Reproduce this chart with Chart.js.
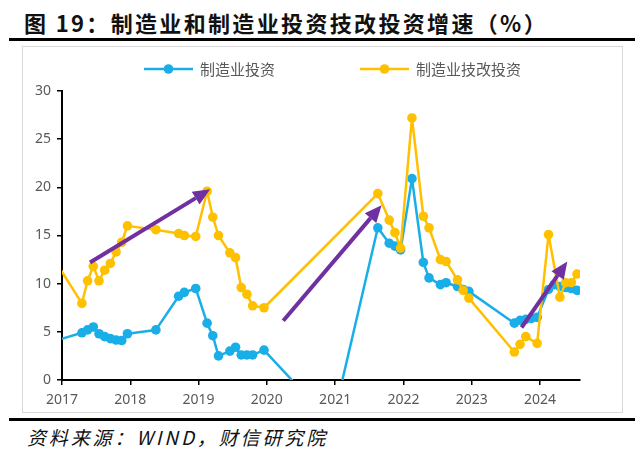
<!DOCTYPE html>
<html><head><meta charset="utf-8">
<script src="https://cdn.jsdelivr.net/npm/chart.js@4/dist/chart.umd.min.js"></script>
<style>
html,body{margin:0;padding:0;background:#fff;width:640px;height:454px;overflow:hidden;position:relative;}
#title{position:absolute;left:24px;top:11px;font-family:"Noto Sans CJK SC";font-weight:700;font-size:22px;line-height:22px;color:#111;white-space:nowrap;}
.rule{position:absolute;left:9px;width:626px;height:3px;background:#000;}
#box{position:absolute;left:22px;top:46px;width:601px;height:367px;border:1px solid #d9d9d9;box-sizing:border-box;}
#src{position:absolute;left:27px;top:427px;font-family:"Noto Sans CJK SC";font-style:italic;font-size:19px;line-height:20px;color:#111;white-space:nowrap;}
#wrap{position:absolute;left:0;top:0;width:640px;height:454px;}
</style></head>
<body>
<div id="title">图 19：制造业和制造业投资技改投资增速（%）</div>
<div class="rule" style="top:38px"></div>
<div id="box"></div>
<div class="rule" style="top:418px"></div>
<div id="src">资料来源：WIND，财信研究院</div>
<div id="wrap"><canvas id="c" width="640" height="454"></canvas></div>
<script>
// ---- data ----
const seriesNames = ['制造业投资', '制造业技改投资'];
const mfgDates = ['2016-12','2017-04','2017-05','2017-06','2017-07','2017-08','2017-09','2017-10','2017-11','2017-12',
  '2018-05','2018-09','2018-10','2018-12',
  '2019-02','2019-03','2019-04','2019-06','2019-07','2019-08','2019-09','2019-10','2019-12',
  '2020-12',
  '2021-08','2021-10','2021-11','2021-12',
  '2022-02','2022-04','2022-05','2022-07','2022-08','2022-10','2022-11','2022-12',
  '2023-08','2023-09','2023-10','2023-11','2023-12',
  '2024-02','2024-03','2024-04','2024-05','2024-06','2024-07'];
const mfgValues = [4.2,4.9,5.2,5.5,4.8,4.5,4.3,4.15,4.1,4.8,
  5.2,8.7,9.1,9.5,
  5.9,4.6,2.5,3.0,3.4,2.6,2.6,2.6,3.1,
  -4.5,
  15.8,14.2,13.9,13.5,
  20.9,12.2,10.6,9.9,10.1,9.7,9.4,9.2,
  5.9,6.2,6.3,6.4,6.5,
  9.4,9.9,9.7,9.6,9.5,9.3];
const techDates = ['2016-12','2017-04','2017-05','2017-06','2017-07','2017-08','2017-09','2017-10','2017-11','2017-12',
  '2018-05','2018-09','2018-10','2018-12',
  '2019-02','2019-03','2019-04','2019-06','2019-07','2019-08','2019-09','2019-10','2019-12',
  '2021-08','2021-10','2021-11','2021-12',
  '2022-02','2022-04','2022-05','2022-07','2022-08','2022-10','2022-11','2022-12',
  '2023-08','2023-09','2023-10','2023-12',
  '2024-02','2024-04','2024-05','2024-06','2024-07'];
const techValues = [11.7,7.95,10.3,11.8,10.3,11.4,12.1,13.3,14.3,16.0,
  15.6,15.2,15.0,14.9,
  19.6,16.9,15.0,13.2,12.7,9.6,8.9,7.7,7.5,
  19.35,16.6,15.3,13.7,
  27.2,17.0,15.8,12.5,12.3,10.4,9.3,8.5,
  2.9,3.7,4.5,3.8,
  15.1,8.6,10.1,10.1,11.0];
const xTickYears = [2017,2018,2019,2020,2021,2022,2023,2024];
const yTickValues = [0,5,10,15,20,25,30];
// trend arrows (annotation): [startYear, startValue] -> [endYear, endValue]
const arrowStarts = [[2017.41,12.2],[2020.24,6.15],[2023.73,5.45]];
const arrowEnds   = [[2019.17,19.8],[2021.68,18.15],[2024.40,12.3]];

// ---- helpers ----
function toYear(s){const p=s.split('-');return +p[0]+(+p[1]-0.5)/12;}
function pts(dates,vals){return dates.map((d,i)=>({x:toYear(d),y:vals[i]}));}
const X_MIN=2017, X_MAX=2024.586;
const BLUE='#1AAEE8', ORANGE='#FFC000', PURPLE='#7030A0';

function fit(id,target){const el=document.getElementById(id);const w=el.getBoundingClientRect().width;const n=el.textContent.length;el.style.letterSpacing=((target-w)/n)+'px';}
fit('title',524); fit('src',301);

const legendPlugin={id:'lg',afterDraw(chart){
  const ctx=chart.ctx; const y=69;
  const items=[{x:144,c:BLUE,t:seriesNames[0]},{x:360,c:ORANGE,t:seriesNames[1]}];
  ctx.save();
  items.forEach(it=>{
    ctx.strokeStyle=it.c;ctx.lineWidth=2.5;ctx.beginPath();ctx.moveTo(it.x,y);ctx.lineTo(it.x+49,y);ctx.stroke();
    ctx.fillStyle=it.c;ctx.beginPath();ctx.arc(it.x+24.5,y,4.8,0,Math.PI*2);ctx.fill();
    ctx.fillStyle='#595959';ctx.font='15px "Noto Sans CJK SC"';ctx.textBaseline='middle';ctx.textAlign='left';
    ctx.fillText(it.t,it.x+56,y);
  });
  ctx.restore();
}};
const arrowPlugin={id:'arr',afterDatasetsDraw(chart){
  const ctx=chart.ctx,xs=chart.scales.x,ys=chart.scales.y;
  ctx.save();ctx.strokeStyle=PURPLE;ctx.fillStyle=PURPLE;ctx.lineWidth=4;ctx.lineCap='butt';
  arrowStarts.forEach((s,i)=>{
    const e=arrowEnds[i];
    const x0=xs.getPixelForValue(s[0]),y0=ys.getPixelForValue(s[1]);
    const x1=xs.getPixelForValue(e[0]),y1=ys.getPixelForValue(e[1]);
    const a=Math.atan2(y1-y0,x1-x0),L=17,W=7.5;
    const bx=x1-L*Math.cos(a),by=y1-L*Math.sin(a);
    ctx.beginPath();ctx.moveTo(x0,y0);ctx.lineTo(bx,by);ctx.stroke();
    ctx.beginPath();ctx.moveTo(x1,y1);
    ctx.lineTo(bx+W*Math.sin(a),by-W*Math.cos(a));
    ctx.lineTo(bx-W*Math.sin(a),by+W*Math.cos(a));
    ctx.closePath();ctx.fill();
  });
  ctx.restore();
}};

const radius=c=>(c.raw && c.raw.x<X_MIN)?0:4.8;
new Chart(document.getElementById('c'),{
  type:'line',
  data:{datasets:[
    {label:seriesNames[1],data:pts(techDates,techValues),borderColor:ORANGE,backgroundColor:ORANGE,borderWidth:2.5,borderJoinStyle:'round',
     pointRadius:radius,pointHoverRadius:radius,pointBorderWidth:0,pointBackgroundColor:ORANGE,tension:0},
    {label:seriesNames[0],data:pts(mfgDates,mfgValues),borderColor:BLUE,backgroundColor:BLUE,borderWidth:2.5,borderJoinStyle:'round',
     pointRadius:radius,pointHoverRadius:radius,pointBorderWidth:0,pointBackgroundColor:BLUE,tension:0}
  ]},
  options:{
    responsive:false,animation:false,devicePixelRatio:1,
    layout:{padding:{left:0,right:60,top:91,bottom:44}},
    plugins:{legend:{display:false},tooltip:{enabled:false}},
    scales:{
      x:{type:'linear',min:X_MIN,max:X_MAX,
        afterFit(s){s.height=30;},
        afterBuildTicks(s){s.ticks=xTickYears.map(v=>({value:v}));},
        ticks:{callback:v=>String(v),color:'#595959',font:{family:'"Noto Sans"',size:14},padding:7,maxRotation:0,autoSkip:false},
        grid:{display:true,drawOnChartArea:false,drawTicks:true,tickLength:5,color:'#000',lineWidth:1.5},
        border:{display:true,color:'#000',width:2}},
      y:{min:0,max:30,
        afterFit(s){s.width=62;},
        afterBuildTicks(s){s.ticks=yTickValues.map(v=>({value:v}));},
        ticks:{color:'#595959',font:{family:'"Noto Sans"',size:14},padding:6},
        grid:{display:true,drawOnChartArea:false,drawTicks:true,tickLength:5,color:'#000',lineWidth:1.5},
        border:{display:true,color:'#000',width:2}}
    }
  },
  plugins:[legendPlugin,arrowPlugin]
});
</script>
</body></html>
